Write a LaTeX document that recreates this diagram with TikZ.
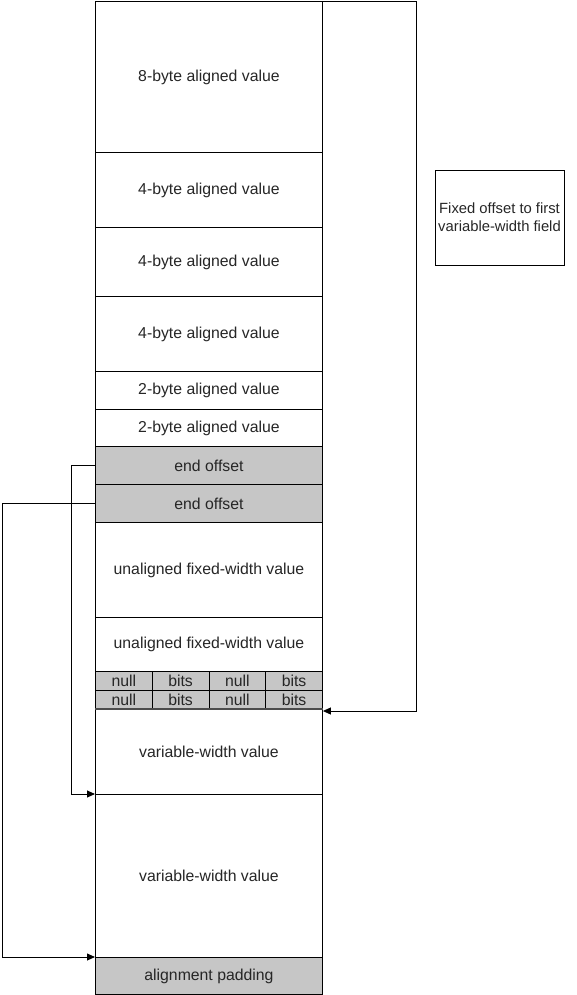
\documentclass[tikz,border=0pt]{standalone}
\usepackage{fontspec}
\setmainfont{Liberation Sans}
\usetikzlibrary{arrows.meta}
\begin{document}
\begin{tikzpicture}[x=1pt,y=-1pt,
  font=\fontsize{15.8}{18.5}\selectfont,
  cell/.style={draw=black, line width=0.9pt, fill=white, inner sep=0pt,
    anchor=north west, minimum width=227pt, text=black!85},
  graycell/.style={cell, fill=gray!45},
  bitcell/.style={draw=black, line width=0.9pt, fill=gray!45, inner sep=0pt,
    anchor=north west, minimum width=56.75pt, minimum height=19pt, text=black!85},
  link/.style={draw=black, line width=0.9pt, -{Triangle[length=8pt,width=7pt]}},
  note/.style={draw=black, line width=0.9pt, inner sep=0pt, align=center,
    minimum width=129pt, minimum height=95pt, text=black!85,
    font=\fontsize{14.8}{18}\selectfont}]
\useasboundingbox (0,0) rectangle (576,995);

% record layout, top to bottom
\node[cell, minimum height=151pt] (r1) at (95,1) {8-byte aligned value};
\node[cell, minimum height=75pt]  (r2) at (95,152) {4-byte aligned value};
\node[cell, minimum height=69pt]  (r3) at (95,227) {4-byte aligned value};
\node[cell, minimum height=75pt]  (r4) at (95,296) {4-byte aligned value};
\node[cell, minimum height=38pt]  (r5) at (95,371) {2-byte aligned value};
\node[cell, minimum height=37pt]  (r6) at (95,409) {2-byte aligned value};
\node[graycell, minimum height=38pt] (e1) at (95,446) {end offset};
\node[graycell, minimum height=38pt] (e2) at (95,484) {end offset};
\node[cell, minimum height=95pt]  (u1) at (95,522) {unaligned fixed-width value};
\node[cell, minimum height=54pt]  (u2) at (95,617) {unaligned fixed-width value};

% null bitmap
\node[bitcell] (b11) at (95,671)     {null};
\node[bitcell] (b12) at (151.75,671) {bits};
\node[bitcell] (b13) at (208.5,671)  {null};
\node[bitcell] (b14) at (265.25,671) {bits};
\node[bitcell] (b21) at (95,690)     {null};
\node[bitcell] (b22) at (151.75,690) {bits};
\node[bitcell] (b23) at (208.5,690)  {null};
\node[bitcell] (b24) at (265.25,690) {bits};

\node[cell, minimum height=85pt]  (v1) at (95,709) {variable-width value};
\node[cell, minimum height=163pt] (v2) at (95,794) {variable-width value};
\node[graycell, minimum height=37pt] (pad) at (95,957) {alignment padding};
\draw[line width=1.8pt, black!70] (v1.north west) -- (v1.north east);

% fixed offset to the first variable-width field
\node[note] (fo) at (499.5,217.5) {Fixed offset to first\\variable-width field};
\coordinate (rx) at (416,0);
\draw[link] (r1.north east) -- (rx |- r1.north east) |- ([yshift=-2pt]v1.north east);

% end offsets pointing at the ends of the variable-width fields
\coordinate (lx1) at (71,0);
\coordinate (lx2) at (2,0);
\draw[link] (e1.west) -- (lx1 |- e1.west) |- (v2.north west);
\draw[link] (e2.west) -- (lx2 |- e2.west) |- (pad.north west);
\end{tikzpicture}
\end{document}
